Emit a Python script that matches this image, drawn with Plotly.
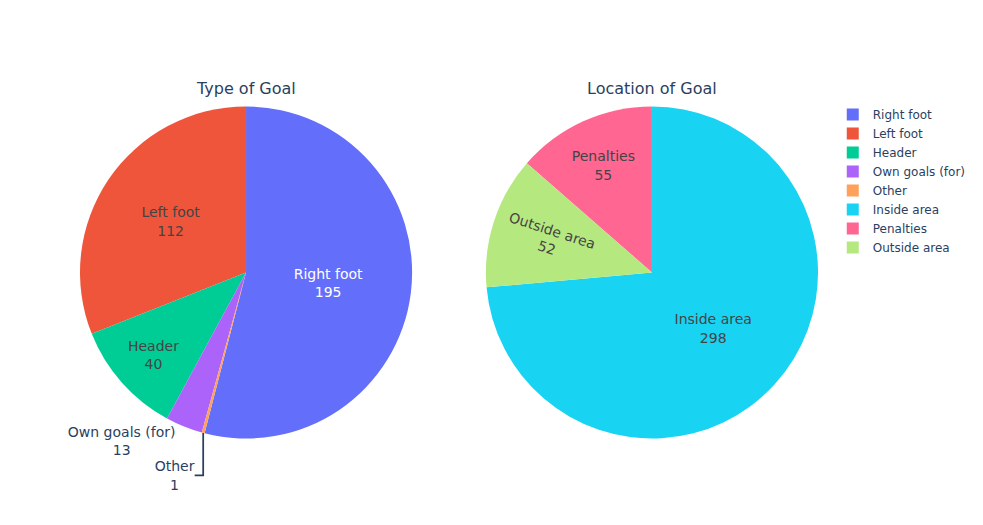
import plotly.graph_objects as go
from plotly.subplots import make_subplots

type_labels = ["Right foot", "Left foot", "Header", "Own goals (for)", "Other"]
type_values = [195, 112, 40, 13, 1]

loc_labels = ["Inside area", "Penalties", "Outside area"]
loc_values = [298, 55, 52]

fig = make_subplots(rows=1, cols=2, specs=[[{"type": "domain"}, {"type": "domain"}]],
                    subplot_titles=["Type of Goal", "Location of Goal"])
fig.add_trace(go.Pie(labels=type_labels, values=type_values, textinfo="label+value"), 1, 1)
fig.add_trace(go.Pie(labels=loc_labels, values=loc_values, textinfo="label+value"), 1, 2)
fig.update_traces(textfont_size=14)
fig.update_layout(width=983, height=525,
                  font=dict(family="Verdana, DejaVu Sans, sans-serif"))
fig.write_html("out.html", config={"displayModeBar": False},
               post_script="document.body.style.margin='0px';")
